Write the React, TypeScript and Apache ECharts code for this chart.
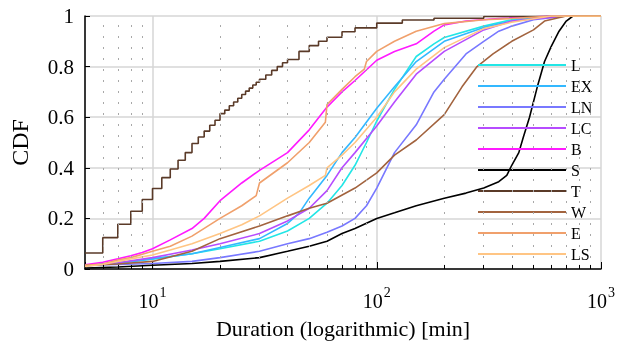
import React, { useEffect, useRef } from 'react';
import * as echarts from 'echarts';

const seriesNames = ['L', 'EX', 'LN', 'LC', 'B', 'S', 'T', 'W', 'E', 'LS'];
const seriesColors = ['#22e6e6', '#33b8ff', '#7878ff', '#b64cff', '#ff1aff', '#000000', '#5a3a28', '#a2633e', '#f0a06c', '#ffc584'];

const cdfL: [number, number][] = [[5, 0.015], [7, 0.025], [10, 0.04], [15, 0.06], [20, 0.08], [30, 0.11], [40, 0.15], [50, 0.2], [60, 0.26], [70, 0.33], [80, 0.41], [90, 0.5], [100, 0.585], [120, 0.71], [150, 0.84], [180, 0.89], [200, 0.915], [300, 0.96], [400, 0.985], [600, 1], [1000, 1]];
const cdfEX: [number, number][] = [[5, 0.012], [7, 0.022], [10, 0.04], [15, 0.06], [20, 0.085], [30, 0.12], [40, 0.18], [45, 0.22], [50, 0.28], [60, 0.37], [70, 0.46], [80, 0.52], [100, 0.635], [120, 0.72], [150, 0.82], [200, 0.9], [300, 0.955], [400, 0.98], [600, 1], [1000, 1]];
const cdfLN: [number, number][] = [[5, 0.015], [7, 0.018], [10, 0.022], [15, 0.03], [20, 0.045], [30, 0.07], [40, 0.1], [50, 0.12], [60, 0.145], [70, 0.17], [80, 0.2], [90, 0.25], [100, 0.32], [120, 0.46], [150, 0.57], [180, 0.7], [200, 0.75], [250, 0.85], [300, 0.9], [350, 0.94], [400, 0.96], [500, 0.985], [700, 1], [1000, 1]];
const cdfLC: [number, number][] = [[5, 0.012], [7, 0.025], [10, 0.045], [15, 0.075], [20, 0.1], [30, 0.14], [40, 0.19], [50, 0.24], [60, 0.31], [70, 0.4], [80, 0.46], [100, 0.565], [120, 0.66], [150, 0.77], [200, 0.86], [300, 0.945], [400, 0.98], [700, 1], [1000, 1]];
const cdfB: [number, number][] = [[5, 0.017], [6, 0.027], [7, 0.04], [8, 0.052], [9, 0.065], [10, 0.08], [12, 0.115], [15, 0.16], [17, 0.2], [20, 0.27], [25, 0.34], [30, 0.39], [40, 0.46], [50, 0.55], [60, 0.64], [70, 0.7], [80, 0.745], [100, 0.825], [120, 0.86], [150, 0.89], [180, 0.94], [200, 0.965], [250, 0.98], [350, 0.99], [600, 1], [1000, 1]];
const cdfS: [number, number][] = [[5, 0.004], [7, 0.008], [10, 0.015], [15, 0.022], [20, 0.03], [30, 0.045], [40, 0.07], [50, 0.09], [60, 0.11], [70, 0.14], [80, 0.16], [100, 0.2], [120, 0.222], [150, 0.25], [200, 0.28], [250, 0.3], [300, 0.32], [350, 0.345], [380, 0.37], [400, 0.41], [430, 0.46], [450, 0.52], [480, 0.6], [520, 0.72], [560, 0.82], [600, 0.88], [650, 0.94], [700, 0.98], [750, 1], [1000, 1]];
const cdfT: [number, number][] = [[5, 0.063], [6, 0.124], [7, 0.177], [8, 0.228], [9, 0.275], [10, 0.318], [11, 0.361], [12, 0.395], [13, 0.43], [14, 0.46], [15, 0.496], [16, 0.522], [17, 0.545], [18, 0.568], [19, 0.588], [20, 0.614], [21, 0.628], [22, 0.645], [23, 0.66], [24, 0.675], [25, 0.69], [26, 0.703], [27, 0.715], [28, 0.727], [29, 0.738], [30, 0.75], [32, 0.767], [34, 0.785], [36, 0.8], [38, 0.815], [40, 0.828], [45, 0.86], [50, 0.883], [55, 0.9], [60, 0.916], [70, 0.938], [80, 0.953], [100, 0.972], [130, 0.984], [180, 0.991], [300, 0.998], [500, 1], [1000, 1]];
const cdfW: [number, number][] = [[5, 0.015], [7, 0.02], [10, 0.03], [15, 0.07], [20, 0.12], [30, 0.17], [40, 0.21], [50, 0.24], [60, 0.26], [80, 0.32], [100, 0.38], [120, 0.45], [150, 0.51], [200, 0.61], [240, 0.72], [280, 0.8], [330, 0.85], [400, 0.9], [500, 0.945], [560, 0.98], [700, 1], [1000, 1]];
const cdfE: [number, number][] = [[5, 0.015], [6, 0.02], [7, 0.035], [8, 0.045], [10, 0.07], [12, 0.09], [15, 0.13], [20, 0.2], [25, 0.25], [29, 0.29], [30, 0.34], [40, 0.42], [50, 0.5], [59, 0.58], [60, 0.65], [70, 0.71], [80, 0.76], [88, 0.79], [90, 0.82], [100, 0.86], [120, 0.9], [150, 0.94], [200, 0.97], [300, 0.985], [400, 0.99], [600, 1], [1000, 1]];
const cdfLS: [number, number][] = [[5, 0.01], [6, 0.018], [7, 0.03], [8, 0.04], [10, 0.055], [12, 0.075], [15, 0.1], [20, 0.14], [25, 0.175], [30, 0.21], [40, 0.28], [50, 0.33], [59, 0.37], [60, 0.4], [70, 0.45], [80, 0.5], [100, 0.6], [120, 0.7], [150, 0.79], [200, 0.875], [300, 0.95], [400, 0.975], [600, 1], [1000, 1]];

const seriesData = [cdfL, cdfEX, cdfLN, cdfLC, cdfB, cdfS, cdfT, cdfW, cdfE, cdfLS];
const minorTickValues = [6, 7, 8, 9, 20, 30, 40, 50, 60, 70, 80, 90, 200, 300, 400, 500, 600, 700, 800, 900];

const FONT = '"Liberation Serif", "Times New Roman", serif';

export default function App() {
  const ref = useRef<HTMLDivElement>(null);
  useEffect(() => {
    if (!ref.current) return;
    const chart = echarts.init(ref.current, null, { renderer: 'svg' });
    const lineSeries = seriesNames.map((name, i) => ({
      name,
      type: 'line',
      data: seriesData[i],
      showSymbol: false,
      symbol: 'none',
      step: name === 'T' ? 'end' : false,
      color: seriesColors[i],
      lineStyle: { color: seriesColors[i], width: 1.6 },
      z: 3,
    }));
    const helper = {
      name: '_grid',
      type: 'line',
      data: [[1000, 1]],
      showSymbol: false,
      symbol: 'none',
      lineStyle: { opacity: 0 },
      z: 1,
      markLine: {
        silent: true,
        symbol: ['none', 'none'],
        label: { show: false },
        animation: false,
        data: [
          ...minorTickValues.map((v) => ({ xAxis: v, lineStyle: { color: '#a8a8a8', width: 1, type: [2, 9] } })),
          ...minorTickValues.map((v) => [
            { coord: [v, 0], lineStyle: { color: '#000', width: 1, type: 'solid' } },
            { coord: [v, 0.016] },
          ]),
        ],
      },
    };
    chart.setOption({
      animation: false,
      grid: { left: 85, right: 16, top: 16, bottom: 76, containLabel: false },
      legend: {
        data: seriesNames,
        orient: 'vertical',
        left: 473,
        top: 52,
        icon: 'rect',
        itemWidth: 88,
        itemHeight: 2,
        itemGap: 5,
        textStyle: { fontFamily: FONT, fontSize: 16, lineHeight: 16, color: '#000' },
      },
      xAxis: {
        type: 'log',
        logBase: 10,
        min: 5,
        max: 1000,
        name: 'Duration (logarithmic) [min]',
        nameLocation: 'middle',
        nameGap: 48,
        nameTextStyle: { fontFamily: FONT, fontSize: 22, color: '#000' },
        axisLine: { show: true, lineStyle: { color: '#000', width: 1.5 } },
        axisTick: { show: true, inside: true, length: 7, lineStyle: { color: '#000', width: 1 } },
        axisLabel: {
          margin: 16,
          formatter: (v: number) => {
            const e = Math.log10(v);
            const r = Math.round(e);
            if (Math.abs(e - r) > 1e-6) return '';
            return `{b|10}{s|${r}}`;
          },
          rich: {
            b: { fontFamily: FONT, fontSize: 20, color: '#000', verticalAlign: 'bottom', padding: [6, 0, 0, 0] },
            s: { fontFamily: FONT, fontSize: 14, color: '#000', verticalAlign: 'top', padding: [0, 0, 0, 1] },
          },
        },
        splitLine: { show: true, lineStyle: { color: '#d6d6d6', width: 1.5 } },
      },
      yAxis: {
        type: 'value',
        min: 0,
        max: 1,
        interval: 0.2,
        name: 'CDF',
        nameLocation: 'middle',
        nameGap: 53,
        nameTextStyle: { fontFamily: FONT, fontSize: 24, color: '#000' },
        axisLine: { show: true, lineStyle: { color: '#000', width: 1.5 } },
        axisTick: { show: true, inside: true, length: 5, lineStyle: { color: '#000', width: 1 } },
        axisLabel: { margin: 11, fontFamily: FONT, fontSize: 21, color: '#000' },
        splitLine: { show: true, lineStyle: { color: '#d6d6d6', width: 1.5 } },
      },
      series: [helper, ...lineSeries],
    });
    return () => chart.dispose();
  }, []);
  return <div ref={ref} style={{ position: 'fixed', left: 0, top: 0, width: 618, height: 345 }} />;
}
